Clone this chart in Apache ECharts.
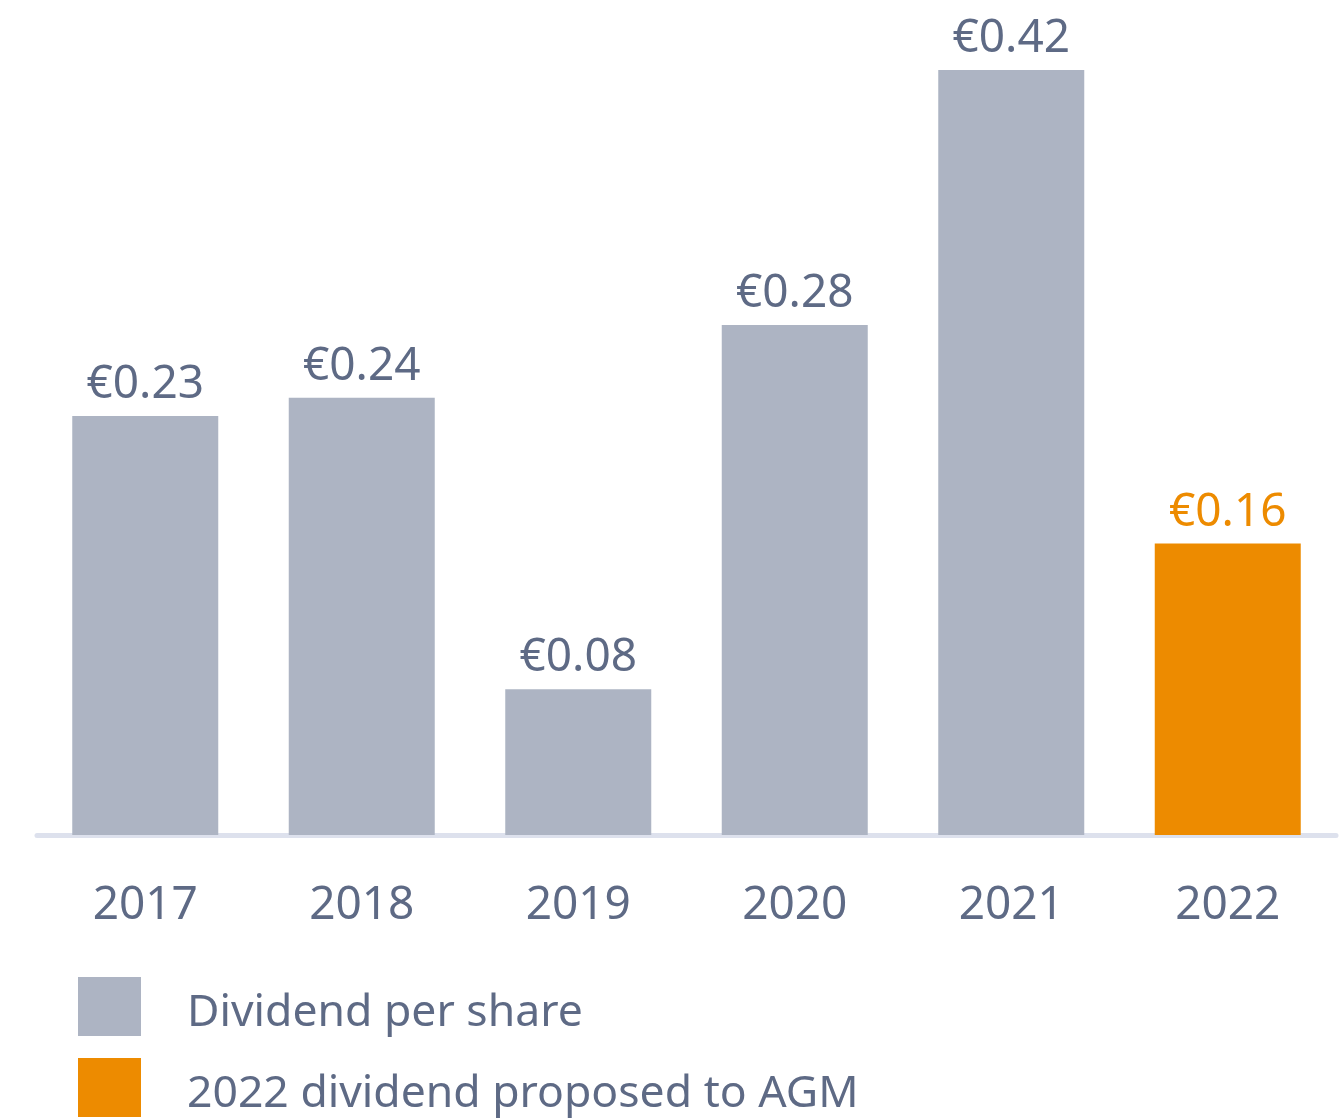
<!DOCTYPE html>
<html>
<head>
<meta charset="utf-8">
<script src="https://cdn.jsdelivr.net/npm/echarts@6/dist/echarts.min.js"></script>
<style>
html,body{margin:0;padding:0;background:#fff;}
#chart{width:1343px;height:1118px;}
</style>
</head>
<body>
<div id="chart"></div>
<script>
const categories = ['2017', '2018', '2019', '2020', '2021', '2022'];
const dividendPerShare = [0.23, 0.24, 0.08, 0.28, 0.42, null];
const proposedToAGM = [null, null, null, null, null, 0.16];
const seriesNames = ['Dividend per share', '2022 dividend proposed to AGM'];

const FONT = 'Noto Sans';
const TEXT = '#5e6a85';
const GREY = '#adb4c3';
const ORANGE = '#ed8b00';

const chart = echarts.init(document.getElementById('chart'), null, {renderer: 'canvas'});
const fmt = p => '€' + p.value.toFixed(2);

chart.setOption({
  animation: false,
  backgroundColor: '#ffffff',
  grid: {left: 37, right: 7, top: 70, bottom: 283, containLabel: false},
  legend: [
    {
      // colour swatches
      orient: 'vertical',
      left: 78,
      top: 977,
      padding: 0,
      height: 200,
      itemWidth: 63,
      itemHeight: 59,
      itemGap: 22,
      icon: 'rect',
      data: seriesNames,
      formatter: () => '',
      textStyle: {fontSize: 1, lineHeight: 1}
    },
    {
      // legend texts
      orient: 'vertical',
      left: 78,
      top: 983.5,
      padding: 0,
      height: 200,
      itemWidth: 63,
      itemHeight: 59,
      itemGap: 22,
      icon: 'none',
      data: seriesNames,
      textStyle: {fontFamily: FONT, fontSize: 44.5, lineHeight: 59, color: TEXT, padding: [0, 0, 0, 41]}
    }
  ],
  xAxis: {
    type: 'category',
    data: categories,
    offset: 2.5,
    axisLine: {show: true, lineStyle: {color: '#dde1ed', width: 5}},
    axisTick: {show: false},
    axisLabel: {fontFamily: FONT, fontSize: 46, color: TEXT, margin: 45}
  },
  yAxis: {
    type: 'value',
    min: 0,
    max: 0.42,
    show: false,
    splitLine: {show: false}
  },
  series: [
    {
      name: seriesNames[0],
      type: 'bar',
      data: dividendPerShare,
      barWidth: 146,
      barGap: '-100%',
      itemStyle: {color: GREY},
      label: {show: true, position: 'top', distance: 8, formatter: fmt,
        fontFamily: FONT, fontSize: 46, color: TEXT}
    },
    {
      name: seriesNames[1],
      type: 'bar',
      data: proposedToAGM,
      barWidth: 146,
      barGap: '-100%',
      itemStyle: {color: ORANGE},
      label: {show: true, position: 'top', distance: 8, formatter: fmt,
        fontFamily: FONT, fontSize: 46, color: ORANGE}
    }
  ]
});
</script>
</body>
</html>
